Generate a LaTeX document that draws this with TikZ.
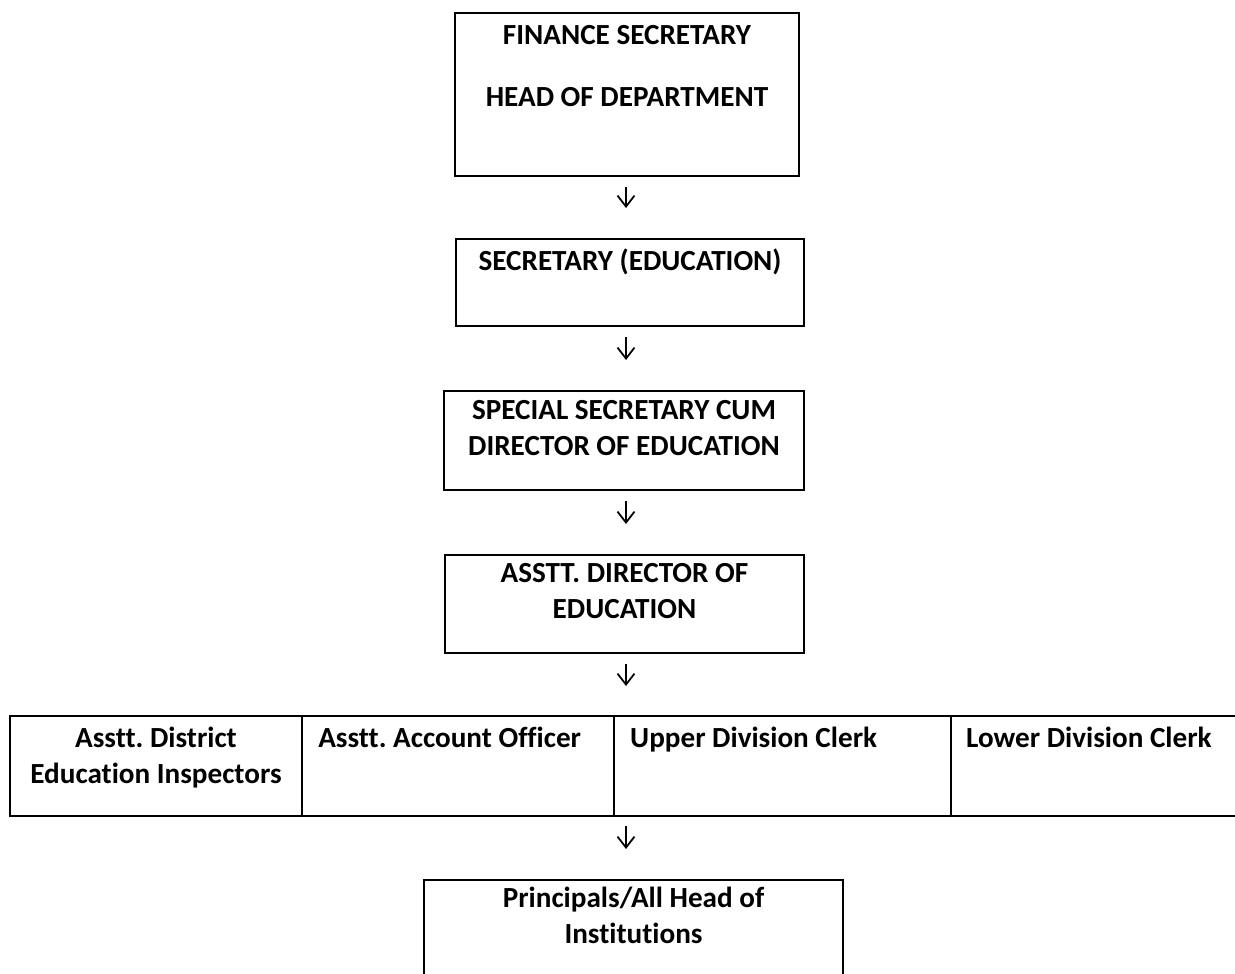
\documentclass[tikz,border=0pt]{standalone}
\usepackage{fontspec}
\setmainfont{Carlito}[Ligatures=NoCommon]
\usetikzlibrary{positioning,arrows.meta}
\frenchspacing

\tikzset{
  box/.style={draw, line width=1.1pt, inner sep=0pt, anchor=north},
  cell/.style={draw, line width=1.1pt, inner sep=0pt, outer sep=0pt, minimum height=2cm},
  txt/.style={font=\bfseries\fontsize{16.6}{20.5}\selectfont, align=center, inner sep=0pt},
  arr/.style={-{Straight Barb[length=0.22cm,width=0.34cm]}, line width=1pt, shorten <=0.2cm, shorten >=0.6cm}
}

\begin{document}
\begin{tikzpicture}[x=0.02cm, y=-0.02cm]
  \useasboundingbox (0,0) rectangle (1235,974);
  \clip (0,0) rectangle (1235,974);
  \coordinate (ax) at (626,0);

  \node[box, minimum width=6.88cm, minimum height=3.26cm,
    label={[txt, anchor=north, yshift=-0.26cm]north:{FINANCE SECRETARY\\[0.52cm]HEAD OF DEPARTMENT}}] (fin) at (627,12) {};
  \node[box, minimum width=6.96cm, minimum height=1.74cm,
    label={[txt, anchor=north, yshift=-0.22cm]north:{SECRETARY (EDUCATION)}}] (sec) at (630,238) {};
  \node[box, minimum width=7.2cm, minimum height=1.98cm,
    label={[txt, anchor=north, yshift=-0.2cm]north:{SPECIAL SECRETARY CUM\\DIRECTOR OF EDUCATION}}] (spec) at (624,390) {};
  \node[box, minimum width=7.18cm, minimum height=1.96cm,
    label={[txt, anchor=north, yshift=-0.18cm]north:{ASSTT. DIRECTOR OF\\EDUCATION}}] (asst) at (624.5,554) {};

  % staff row
  \node[cell, anchor=north west, minimum width=5.84cm,
    label={[txt, anchor=north, yshift=-0.22cm]north:{Asstt. District\\Education Inspectors}}] (c1) at (10,716) {};
  \node[cell, right=0pt of c1, minimum width=6.24cm,
    label={[txt, anchor=north west, xshift=0.32cm, yshift=-0.22cm]north west:{Asstt. Account Officer}}] (c2) {};
  \node[cell, right=0pt of c2, minimum width=6.74cm,
    label={[txt, anchor=north west, xshift=0.32cm, yshift=-0.22cm]north west:{Upper Division Clerk}}] (c3) {};
  \node[cell, right=0pt of c3, minimum width=5.98cm,
    label={[txt, anchor=north west, xshift=0.3cm, yshift=-0.22cm]north west:{Lower Division Clerk}}] (c4) {};

  \node[box, minimum width=8.38cm, minimum height=2.4cm,
    label={[txt, anchor=north, yshift=-0.16cm]north:{Principals/All Head of\\Institutions}}] (princ) at (633.5,879) {};

  \foreach \a/\b in {fin/sec, sec/spec, spec/asst, asst/c3, c3/princ}
    \draw[arr] (\a.south -| ax) -- (\b.north -| ax);
\end{tikzpicture}
\end{document}
